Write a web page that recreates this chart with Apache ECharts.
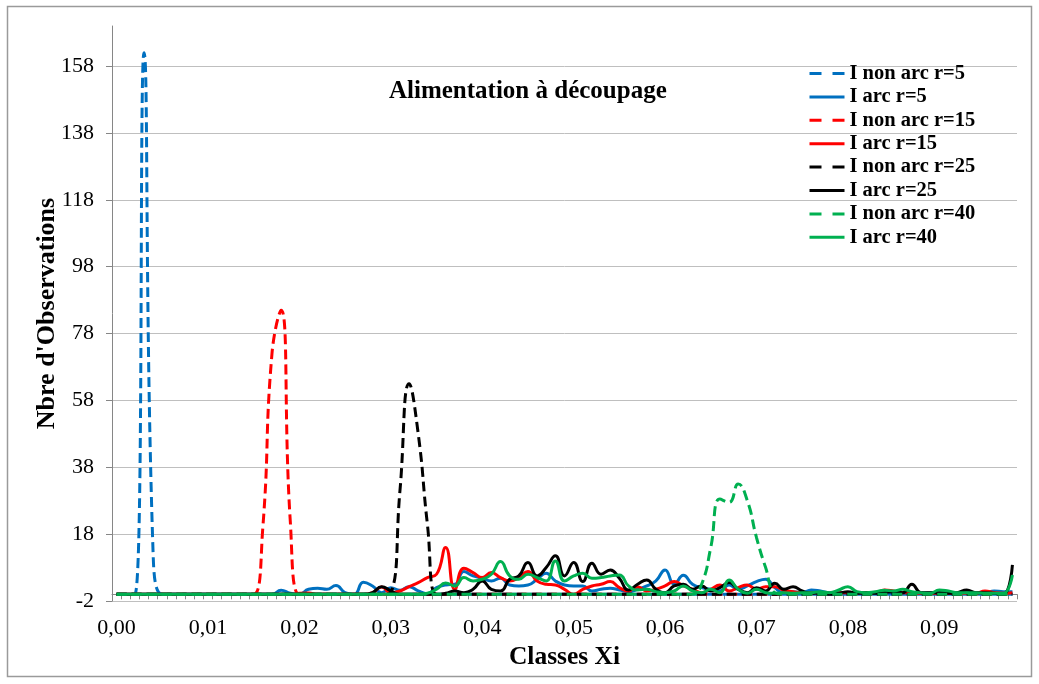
<!DOCTYPE html>
<html>
<head>
<meta charset="utf-8">
<script src="https://cdn.jsdelivr.net/npm/echarts@6/dist/echarts.min.js"></script>
<style>
html,body{margin:0;padding:0;background:#fff;}
#chart{width:1039px;height:684px;}
</style>
</head>
<body>
<div id="chart"></div>
<script>
// Categories (class centres Xi)
const categories = [
"0.000","0.001","0.002","0.003","0.004","0.005","0.006","0.007","0.008","0.009",
"0.010","0.011","0.012","0.013","0.014","0.015","0.016","0.017","0.018","0.019",
"0.020","0.021","0.022","0.023","0.024","0.025","0.026","0.027","0.028","0.029",
"0.030","0.031","0.032","0.033","0.034","0.035","0.036","0.037","0.038","0.039",
"0.040","0.041","0.042","0.043","0.044","0.045","0.046","0.047","0.048","0.049",
"0.050","0.051","0.052","0.053","0.054","0.055","0.056","0.057","0.058","0.059",
"0.060","0.061","0.062","0.063","0.064","0.065","0.066","0.067","0.068","0.069",
"0.070","0.071","0.072","0.073","0.074","0.075","0.076","0.077","0.078","0.079",
"0.080","0.081","0.082","0.083","0.084","0.085","0.086","0.087","0.088","0.089",
"0.090","0.091","0.092","0.093","0.094","0.095","0.096","0.097","0.098"];

const seriesNames = ["I non arc r=5","I arc r=5","I non arc r=15","I arc r=15","I non arc r=25","I arc r=25","I non arc r=40","I arc r=40"];

const nonArc5 = [
0,0,0,162,12,0,0,0,0,0,
0,0,0,0,0,0,0,0,0,0,
0,0,0,0,0,0,0,0,0,0,
0,0,0,0,0,0,0,0,0,0,
0,0,0,0,0,0,0,0,0,0,
0,0,0,0,0,0,0,0,0,0,
0,0,0,0,0,0,0,0,0,0,
0,0,0,0,0,0,0,0,0,0,
0,0,0,0,0,0,0,0,0,0,
0,0,0,0,0,0,0,0,0];

const arc5 = [
0,0,0,0,0,0,0,0,0,0,
0,0,0,0,0,0,0,0,1.2,0.3,
0,1.5,1.8,1.5,2.6,0.5,0,3.6,2.5,0.5,
2,1.2,2.3,1,0.2,2,2.8,3,6.8,5.5,
4.8,4,4.8,2.8,2.5,2.8,4.5,6.3,4,2.8,
2.5,2.5,1,1.5,1.8,1.3,0.8,1.5,2.5,4,
7.3,3,5.7,3,2,1.5,1,2.8,1.5,2.5,
3.8,4.5,2,0.5,0.8,0.5,1.3,1,0.5,0.5,
0.5,0.5,0.5,0.5,0.5,0.5,0.5,0.5,0.5,0.5,
0.5,0.5,0.5,0.5,0.5,0.5,1,0.8,0.8];

const nonArc15 = [
0,0,0,0,0,0,0,0,0,0,
0,0,0,0,0,0,20,72,85,22,
0,0,0,0,0,0,0,0,0,0,
0,0,0,0,0,0,0,0,0,0,
0,0,0,0,0,0,0,0,0,0,
0,0,0,0,0,0,0,0,0,0,
0,0,0,0,0,0,0,0,0,0,
0,0,0,0,0,0,0,0,0,0,
0,0,0,0,0,0,0,0,0,0,
0,0,0,0,0,0,0,0,0];

const arc15 = [
0,0,0,0,0,0,0,0,0,0,
0,0,0,0,0,0,0,0,0,0,
0.3,0.4,0,0,0,0,0,0,0.5,2.2,
0.5,1,2.3,3.5,5,6,14,1.5,7.8,6.5,
5,6.5,5,4,5,6.8,4,3,2.8,1.5,
0,1.5,2.5,3,3.8,2,1,2.3,1,1.5,
2.5,3.8,2.5,1.5,0.5,1.5,2.8,1,2,2.8,
1.5,2.3,2.3,1.2,0.8,0.5,0.5,0.5,0.3,0.5,
0.5,0.5,0.5,0.5,1.3,1,0.5,0.5,0.3,0.3,
0.3,0.3,0.3,0.3,0.3,1,0.5,0.3,0.5];

const nonArc25 = [
0,0,0,0,0,0,0,0,0,0,
0,0,0,0,0,0,0,0,0,0,
0,0,0,0,0,0,0,0,0,0,
0.5,31,63,48,21,0,0,0,0,0,
0,0,0,0,0,0,0,0,0,0,
0,0,0,0,0,0,0,0,0,0,
0,0,0,0,0,0,0,0,0,0,
0,0,0,0,0,0,0,0,0,0,
0,0,0,0,0,0,0,0,0,0,
0,0,0,0,0,0,0,0,0];

const arc25 = [
0,0,0,0,0,0,0,0,0,0,
0,0,0,0,0,0,0,0,0,0,
0,0,0,0,0,0,0,0,0.5,2.3,
1,0,0,0,0,0,0.3,1,0.5,1.5,
4,1.5,1,4.5,5.5,9.5,5.5,8,11.5,5.5,
9.5,3.8,9.3,6,7.3,4.8,1.3,3,4.3,1.5,
0.5,2.5,3,1.5,2.5,1,2,3.5,1.5,0.5,
2,1,3.3,1.5,2.3,1,0.3,0.5,0,0.3,
0.8,0.3,0.5,0.3,0.5,0.8,0.5,3,0.5,0.5,
0.5,0.3,0.5,1.3,0.5,0.5,0.3,0,8.8];

const nonArc40 = [
0,0,0,0,0,0,0,0,0,0,
0,0,0,0,0,0,0,0,0,0,
0,0,0,0,0,0,0,0,0,0,
0,0,0,0,0,0,0,0,0,0,
0,0,0,0,0,0,0,0,0,0,
0,0,0,0,0,0,0,0,0,0,
0,0,0,0,3,14,28.5,27.5,33,28,
17,8,0.5,0,0,0,0,0,0,0,
0,0,0,0,0,0,0,0,0,0,
0,0,0,0,0,0,0,0,0];

const arc40 = [
0,0,0,0,0,0,0,0,0,0,
0,0,0,0,0,0,0,0,0,0,
0,0,0,0,0,0,0,0,0,0,
0,0,0,0,0.3,1.5,3.4,2.5,5,4,
4.5,6,9.8,5.5,4.5,6,5,4,10,4,
5.5,6.3,4.8,5,5.5,5.8,2.5,1.3,1.5,0.8,
0.5,1,2.5,1,0.5,1.5,0.5,4.3,1.5,0.3,
1.5,0.5,0.3,0.5,0.3,0.5,0.5,0.8,0.5,1.3,
2.3,0.8,0.5,0.8,1.2,1,1.5,0.8,0.5,0.3,
1.3,1,0.5,0.5,0.5,0.3,0.3,0.3,5.8];

// Y tick labels shown on the axis
const yTickLabels = ["-2","18","38","58","78","98","118","138","158"];

const seriesData = [nonArc5, arc5, nonArc15, arc15, nonArc25, arc25, nonArc40, arc40];
const seriesColors = ["#0070C0","#0070C0","#FF0000","#FF0000","#000000","#000000","#00B050","#00B050"];
const seriesDashed = [true,false,true,false,true,false,true,false];

const FONT = "'Liberation Serif','Times New Roman',serif";
const chart = echarts.init(document.getElementById('chart'), null, {renderer:'canvas'});

const series = seriesData.map((d, k) => ({
  name: seriesNames[k],
  type: 'line',
  data: d,
  yAxisIndex: 0,
  smooth: 0.5,
  symbol: 'none',
  animation: false,
  lineStyle: { color: seriesColors[k], width: 3, type: seriesDashed[k] ? [10, 5] : 'solid' },
  itemStyle: { color: seriesColors[k] }
}));

const legendData = seriesNames.map((n, k) => seriesDashed[k]
  ? { name: n, lineStyle: { type: [12, 11], width: 3 }, itemStyle: { opacity: 0 } }
  : { name: n, lineStyle: { type: 'solid', width: 3 }, itemStyle: { opacity: 0 } });

chart.setOption({
  backgroundColor: '#ffffff',
  animation: false,
  title: {
    text: 'Alimentation à découpage',
    left: 384, top: 74,
    textStyle: { fontFamily: FONT, fontWeight: 'bold', fontSize: 25, color: '#000' }
  },
  legend: {
    orient: 'vertical',
    left: 808, top: 63,
    itemWidth: 35, itemHeight: 14, itemGap: 2.4,
    padding: 0,
    data: legendData,
    itemStyle: { opacity: 0 },
    lineStyle: { width: 3 },
    textStyle: { fontFamily: FONT, fontWeight: 'bold', fontSize: 20.5, color: '#000' }
  },
  grid: { left: 112, right: 22, top: 26, bottom: 83, containLabel: false },
  xAxis: {
    type: 'category',
    data: categories,
    boundaryGap: true,
    name: 'Classes Xi',
    nameLocation: 'middle',
    nameGap: 43,
    nameMoveOverlap: false,
    nameTextStyle: { fontFamily: FONT, fontWeight: 'bold', fontSize: 25.5, color: '#000' },
    axisLine: { lineStyle: { color: '#868686', width: 1 } },
    axisTick: { show: true, interval: 0, length: 5, lineStyle: { color: '#868686' } },
    axisLabel: {
      interval: 9, margin: 16,
      fontFamily: FONT, fontSize: 22, color: '#000',
      formatter: v => Number(v).toFixed(2).replace('.', ',')
    },
    splitLine: { show: false }
  },
  yAxis: [
    { // data axis (real values)
      type: 'value', min: -2, max: 170, show: false, position: 'right',
      splitLine: { show: false }
    },
    { // display axis: ticks -2, 18, ... 158
      type: 'value', min: 0, max: 172, interval: 20, position: 'left',
      name: "Nbre d'Observations",
      nameLocation: 'middle',
      nameGap: 52,
      nameMoveOverlap: false,
      nameTextStyle: { fontFamily: FONT, fontWeight: 'bold', fontSize: 26, color: '#000' },
      axisLine: { show: true, lineStyle: { color: '#868686', width: 1 } },
      axisTick: { show: true, length: 6, lineStyle: { color: '#868686' } },
      axisLabel: {
        margin: 18, showMaxLabel: false,
        fontFamily: FONT, fontSize: 22, color: '#000',
        formatter: v => { const idx = Math.round(v / 20); return yTickLabels[idx] !== undefined && Math.abs(v - idx*20) < 1e-6 ? yTickLabels[idx] : ''; }
      },
      splitLine: { show: true, showMaxLine: false, lineStyle: { color: '#bfbfbf', width: 1 } }
    }
  ],
  graphic: [{
    type: 'rect', silent: true,
    shape: { x: 7.5, y: 6.5, width: 1024, height: 670 },
    style: { fill: 'none', stroke: '#9a9a9a', lineWidth: 1.5 },
    z: -1
  }],
  series: series
});
</script>
</body>
</html>
